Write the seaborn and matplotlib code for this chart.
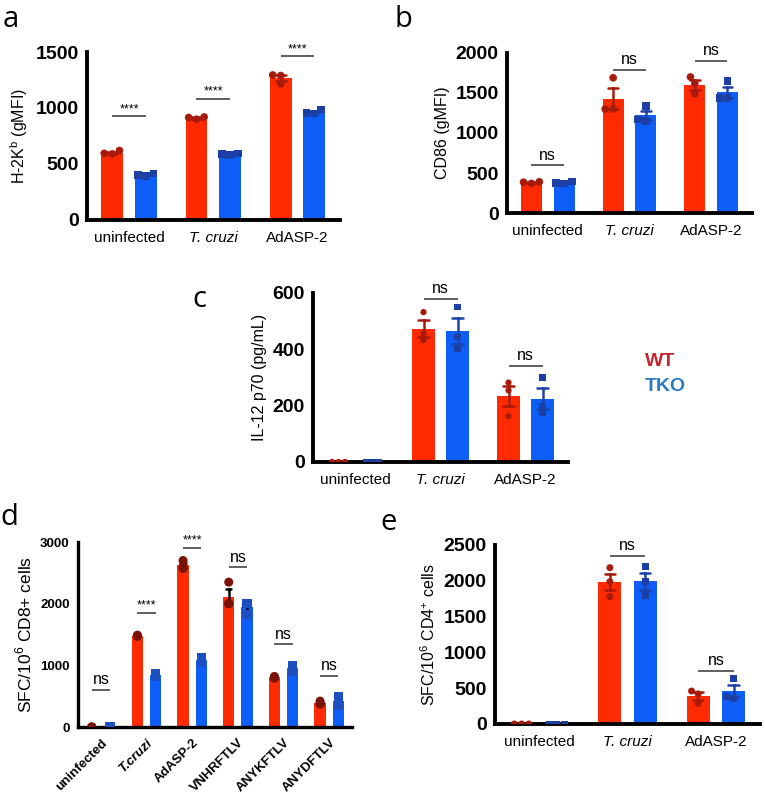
import numpy as np
import pandas as pd
import matplotlib
matplotlib.use('Agg')
from matplotlib import pyplot as plt
import seaborn as sns

groups = ["WT", "TKO"]
cats_abc = ["uninfected", "T. cruzi", "AdASP-2"]
cats_d = ["uninfected", "T.cruzi", "AdASP-2", "VNHRFTLV", "ANYKFTLV", "ANYDFTLV"]

# a: H-2Kb (gMFI), three mice per group
a_wt = [[620, 595, 590], [920, 900, 915], [1295, 1290, 1215]]
a_tko = [[415, 395, 400], [595, 580, 590], [985, 950, 955]]
a_sig = ["****", "****", "****"]
a_sig_y = [925, 1080, 1460]

# b: CD86 (gMFI)
b_wt = [[390, 370, 385], [1690, 1300, 1300], [1700, 1620, 1490]]
b_tko = [[395, 375, 370], [1340, 1170, 1150], [1650, 1440, 1440]]
b_sig = ["ns", "ns", "ns"]
b_sig_y = [595, 1790, 1905]

# c: IL-12 p70 (pg/mL)
c_wt = [[0, 0, 0], [532, 456, 432], [282, 254, 163]]
c_tko = [[0, 0, 0], [550, 400, 445], [300, 200, 175]]
c_sig = [None, "ns", "ns"]
c_sig_y = [None, 580, 341]

# d: SFC/10^6 CD8+ cells
d_wt = [[0, 0, 0], [1490, 1480, 1470], [2700, 2600, 2570],
        [2350, 2000, 2000], [820, 800, 790], [420, 380, 370]]
d_tko = [[0, 0, 0], [870, 840, 820], [1120, 1080, 1050],
         [2010, 2000, 1830], [1000, 950, 900], [500, 420, 350]]
d_sig = ["ns", "****", "****", "ns", "ns", "ns"]
d_sig_y = [600, 1850, 2900, 2590, 1340, 825]

# e: SFC/10^6 CD4+ cells
e_wt = [[0, 0, 0], [2183, 1988, 1779], [460, 420, 290]]
e_tko = [[0, 0, 0], [2200, 1990, 1790], [640, 380, 360]]
e_sig = [None, "ns", "ns"]
e_sig_y = [None, 2345, 745]

bar_pal = {"WT": "#ff2a00", "TKO": "#0d5ef7"}
pt_pal = {"WT": "#a81a0c", "TKO": "#1c3fa6"}
err_pal = {"WT": "#a81a0c", "TKO": "#1c42a8"}


def to_long(cats, wt, tko):
    rows = []
    for grp, vals in zip(groups, [wt, tko]):
        for cat, pts in zip(cats, vals):
            for v in pts:
                rows.append((cat, grp, v))
    return pd.DataFrame(rows, columns=["cat", "grp", "val"])


def draw_panel(ax, df, cats, sig, sig_y, ylim, yticks, ylabel,
               gap=0.35, swarm=True, msize=5.5, epal=err_pal, ppal=pt_pal,
               ytick_fs=14, spine_w=2.8):
    sns.barplot(data=df, x="cat", y="val", hue="grp", order=cats, hue_order=groups,
                palette=bar_pal, saturation=1, errorbar=None, width=0.8, gap=gap,
                linewidth=0, legend=False, ax=ax)
    for grp, mk in zip(groups, ["o", "s"]):
        sub = df[df.grp == grp]
        if swarm:
            sns.swarmplot(data=sub, x="cat", y="val", hue="grp", order=cats,
                          hue_order=groups, dodge=True, marker=mk, size=msize,
                          palette=ppal, legend=False, ax=ax, zorder=3)
        else:
            sns.stripplot(data=sub, x="cat", y="val", hue="grp", order=cats,
                          hue_order=groups, dodge=True, jitter=False, marker=mk,
                          size=msize, palette=ppal, legend=False, ax=ax, zorder=3)
    sns.pointplot(data=df, x="cat", y="val", hue="grp", order=cats, hue_order=groups,
                  dodge=0.4, errorbar="se", capsize=0.12, linestyle="none",
                  markersize=0, palette=epal, err_kws={"linewidth": 1.8},
                  legend=False, ax=ax)
    for i, (s, y) in enumerate(zip(sig, sig_y)):
        if s is None:
            continue
        ax.hlines(y, i - 0.2, i + 0.2, color="#333333", lw=1.1, clip_on=False)
        ax.annotate(s, (i, y), xytext=(0, 1 if s == "****" else 2),
                    textcoords="offset points", ha="center", va="bottom",
                    fontsize=9 if s == "****" else 11.5, annotation_clip=False)
    ax.set_xlim(-0.5, len(cats) - 0.5)
    ax.set_ylim(*ylim)
    ax.set_yticks(yticks)
    ax.set_xlabel("")
    ax.set_ylabel(ylabel, fontsize=11.5)
    sns.despine(ax=ax)
    for sp in ["left", "bottom"]:
        ax.spines[sp].set_linewidth(spine_w)
    ax.tick_params(axis="y", width=spine_w, length=5, labelsize=ytick_fs, pad=1)
    for t in ax.get_yticklabels():
        t.set_fontweight("bold")
    ax.tick_params(axis="x", length=0, labelsize=11, pad=8)
    for t in ax.get_xticklabels():
        if "cruzi" in t.get_text():
            t.set_style("italic")


sns.set_style("white")
plt.rcParams["font.family"] = ["Liberation Sans", "DejaVu Sans"]
plt.rcParams["mathtext.fontset"] = "custom"
plt.rcParams["mathtext.rm"] = "Liberation Sans"
for key in ["text.color", "axes.labelcolor", "xtick.color", "ytick.color", "axes.edgecolor"]:
    plt.rcParams[key] = "black"

fig = plt.figure(figsize=(7.65, 7.99), dpi=100)

ax_a = fig.add_axes([0.1137, 0.7247, 0.3303, 0.2102])
draw_panel(ax_a, to_long(cats_abc, a_wt, a_tko), cats_abc, a_sig, a_sig_y,
           (0, 1500), [0, 500, 1000, 1500], r"H-2K$^{\mathregular{b}}$ (gMFI)")

ax_b = fig.add_axes([0.6627, 0.7334, 0.3203, 0.2003])
draw_panel(ax_b, to_long(cats_abc, b_wt, b_tko), cats_abc, b_sig, b_sig_y,
           (0, 2000), [0, 500, 1000, 1500, 2000], "CD86 (gMFI)")

ax_c = fig.add_axes([0.4092, 0.4218, 0.3333, 0.2115])
draw_panel(ax_c, to_long(cats_abc, c_wt, c_tko), cats_abc, c_sig, c_sig_y,
           (0, 600), [0, 200, 400, 600], "IL-12 p70 (pg/mL)", msize=4.5)

ax_d = fig.add_axes([0.1020, 0.0901, 0.3582, 0.2315])
d_pts = {"WT": "#7a1208", "TKO": "#1d4fc0"}
draw_panel(ax_d, to_long(cats_d, d_wt, d_tko), cats_d, d_sig, d_sig_y,
           (0, 3000), [0, 1000, 2000, 3000], r"SFC/10$^{\mathregular{6}}$ CD8+ cells",
           gap=0.38, swarm=False, msize=6.5, epal={"WT": "black", "TKO": "black"},
           ppal=d_pts, ytick_fs=9.5, spine_w=2.4)
ax_d.tick_params(axis="x", length=5, width=2.4, labelsize=9.5, pad=2)
for t in ax_d.get_xticklabels():
    t.set_rotation(45)
    t.set_ha("right")
    t.set_rotation_mode("anchor")
    t.set_fontweight("bold")
ax_d.set_ylabel(r"SFC/10$^{\mathregular{6}}$ CD8+ cells", fontsize=12.5)

ax_e = fig.add_axes([0.6471, 0.0939, 0.3464, 0.2240])
draw_panel(ax_e, to_long(cats_abc, e_wt, e_tko), cats_abc, e_sig, e_sig_y,
           (0, 2500), [0, 500, 1000, 1500, 2000, 2500],
           r"SFC/10$^{\mathregular{6}}$ CD4$^{\mathregular{+}}$ cells", msize=5)

for letter, x, y in [("a", 0.004, 0.966), ("b", 0.516, 0.966), ("c", 0.252, 0.616),
                     ("d", 0.0, 0.343), ("e", 0.497, 0.337)]:
    fig.text(x, y, letter, fontsize=21, family=["Open Sans", "DejaVu Sans"], va="baseline")

fig.text(0.843, 0.547, "WT", color="#c1272d", fontsize=14, fontweight="bold", va="center")
fig.text(0.843, 0.516, "TKO", color="#2b7bc4", fontsize=14, fontweight="bold", va="center")

fig.savefig("out.png", dpi=100)
